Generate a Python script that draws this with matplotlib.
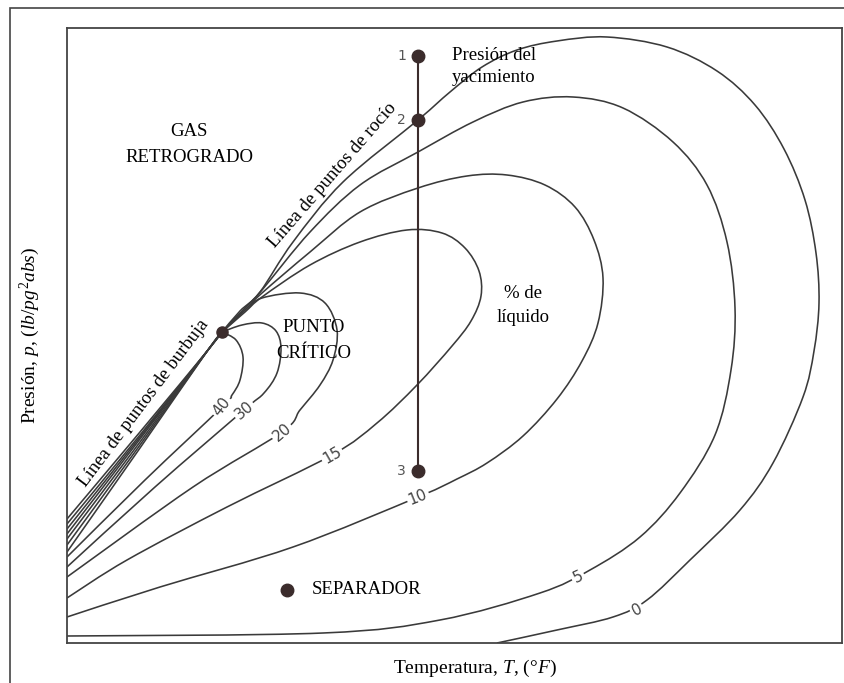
import matplotlib.pyplot as plt
import numpy as np
from matplotlib.path import Path
from matplotlib.patches import PathPatch, Rectangle

plt.rcParams['font.family'] = ['Liberation Serif', 'DejaVu Serif']
plt.rcParams['mathtext.fontset'] = 'custom'
plt.rcParams['mathtext.rm'] = 'Liberation Serif'
plt.rcParams['mathtext.it'] = 'Liberation Serif:italic'

# iso-liquid lines, T and p in arbitrary units (schematic diagram)
t_0 = [155, 173, 193, 226, 276, 351, 383, 415, 450, 490, 540, 600, 650, 688, 717, 738, 749, 752,
       747, 736, 706, 673, 623, 580, 546, 490, 430]
p_0 = [311, 332, 351, 401, 461, 523, 551, 576, 593, 602, 606, 596, 572, 538, 494, 443, 390, 340,
       292, 246, 180, 133, 83, 43, 26, 13, 0]

t_5 = [155, 178, 195, 243, 293, 351, 406, 456, 506, 556, 606, 640, 660, 668, 664, 648, 613,
       573, 523, 473, 373, 256, 0]
p_5 = [311, 335, 353, 411, 458, 491, 521, 541, 546, 535, 501, 458, 401, 335, 273, 208, 150,
       106, 73, 50, 23, 10, 7]

t_10 = [155, 178, 195, 243, 293, 351, 400, 440, 478, 508, 527, 536, 531, 515, 490, 456, 420,
        390, 351, 226, 93, 0]
p_10 = [311, 333, 350, 391, 431, 455, 467, 468, 458, 436, 403, 365, 320, 282, 244, 207, 180,
        164, 146, 96, 56, 26]

t_15 = [155, 178, 195, 243, 293, 340, 375, 398, 412, 414, 404, 385, 350, 310, 265, 160, 60, 0]
p_15 = [311, 331, 346, 378, 401, 413, 410, 395, 372, 347, 322, 297, 258, 220, 188, 136, 83, 45]

t_20 = [155, 178, 195, 233, 258, 270, 266, 253, 233, 215, 126, 0]
p_20 = [311, 333, 345, 350, 340, 313, 283, 258, 233, 211, 156, 66]

t_30 = [155, 175, 195, 209, 214, 210, 197, 177, 88, 0]
p_30 = [311, 318, 320, 312, 295, 270, 250, 233, 156, 76]

t_40 = [155, 169, 176, 173, 165, 155, 78, 0]
p_40 = [311, 303, 286, 263, 248, 236, 163, 86]

# bubble side lines, from the critical point to the left edge
bubble_t = [155, 141, 73, 0]
bubble_start = [311, 293]
bubble_mid = [211, 208, 206, 204, 201, 198, 195]
bubble_end = [124, 119, 114, 109, 104, 98, 91]

# inline labels: value, T, p, angle
label_vals = ['0', '5', '10', '15', '20', '30', '40']
label_t = [570, 511, 351, 265, 215, 177, 155]
label_p = [33, 66, 146, 188, 211, 233, 236]
label_rot = [27, 25, 22, 30, 40, 40, 52]

# reservoir path 1 -> 2 -> 3 and separator
path_t = [351, 351, 351]
path_p = [587, 523, 172]
path_names = ['1', '2', '3']
sep_t, sep_p = 220, 53
crit_t, crit_p = 155, 311

line_col = '#3a3a3a'
dot_col = '#3b2c2c'


def smooth_path(t, p):
    pts = np.column_stack([t, p]).astype(float)
    ext = np.vstack([pts[0], pts, pts[-1]])
    verts = [pts[0]]
    codes = [Path.MOVETO]
    for i in range(len(pts) - 1):
        a, b, c, d = ext[i], ext[i + 1], ext[i + 2], ext[i + 3]
        verts += [b + (c - a) / 6, c - (d - b) / 6, c]
        codes += [Path.CURVE4] * 3
    return Path(verts, codes)


fig = plt.figure(figsize=(8.45, 6.83), dpi=100)
ax = fig.add_axes([67 / 845, 40 / 683, 775 / 845, 615 / 683])
ax.set_xlim(0, 775)
ax.set_ylim(0, 615)
ax.set_xticks([])
ax.set_yticks([])
for s in ax.spines.values():
    s.set_color('#444444')
    s.set_linewidth(1.3)

curves = [(t_0, p_0), (t_5, p_5), (t_10, p_10), (t_15, p_15), (t_20, p_20), (t_30, p_30), (t_40, p_40)]
for t, p in curves:
    ax.add_patch(PathPatch(smooth_path(t, p), fill=False, ec=line_col, lw=1.15, zorder=2))
for m, e in zip(bubble_mid, bubble_end):
    ax.add_patch(PathPatch(smooth_path(bubble_t, bubble_start + [m, e]), fill=False,
                           ec=line_col, lw=1.15, zorder=2))

for v, t, p, r in zip(label_vals, label_t, label_p, label_rot):
    ax.text(t, p, v, rotation=r, ha='center', va='center', fontsize=11, color='#444444',
            family='DejaVu Sans', zorder=3,
            bbox=dict(boxstyle='square,pad=0.12', fc='white', ec='none'))

ax.plot(path_t, path_p, color=dot_col, lw=1.5, zorder=4)
ax.plot(path_t, path_p, 'o', color=dot_col, ms=9, zorder=5)
for n, p in zip(path_names, path_p):
    ax.text(path_t[0] - 12, p, n, ha='right', va='center', fontsize=10, color='#555555',
            family='DejaVu Sans')
ax.plot([sep_t], [sep_p], 'o', color=dot_col, ms=9, zorder=5)
ax.plot([crit_t], [crit_p], 'o', color=dot_col, ms=8, zorder=5)

fs = 13.5
ax.text(122, 512, 'GAS', ha='center', va='center', fontsize=fs)
ax.text(122, 485, 'RETROGRADO', ha='center', va='center', fontsize=fs)
ax.text(385, 588, 'Presión del', ha='left', va='center', fontsize=fs)
ax.text(385, 565, 'yacimiento', ha='left', va='center', fontsize=fs)
ax.text(456, 350, '% de', ha='center', va='center', fontsize=fs)
ax.text(456, 325, 'líquido', ha='center', va='center', fontsize=fs)
ax.text(247, 315, 'PUNTO', ha='center', va='center', fontsize=fs)
ax.text(247, 289, 'CRÍTICO', ha='center', va='center', fontsize=fs)
ax.text(245, 53, 'SEPARADOR', ha='left', va='center', fontsize=fs)
ax.text(266, 468, 'Línea de puntos de rocío', ha='center', va='center', fontsize=fs,
        rotation=49, rotation_mode='anchor')
ax.text(77, 240, 'Línea de puntos de burbuja', ha='center', va='center', fontsize=fs,
        rotation=53, rotation_mode='anchor')

fig.text(475 / 845, 1 - 668 / 683, 'Temperatura, $T$, $(°F)$', ha='center', va='center',
         fontsize=14)
fig.text(30 / 845, 1 - 335 / 683, r'Presión, $p$, $(lb/pg^2abs)$', ha='center', va='center',
         fontsize=14, rotation=90)

fig.add_artist(Rectangle((10 / 845, -0.1), 2, 1.1 - 8 / 683, transform=fig.transFigure,
                         fill=False, ec='#444444', lw=1.2))

fig.savefig('out.png', dpi=100)
